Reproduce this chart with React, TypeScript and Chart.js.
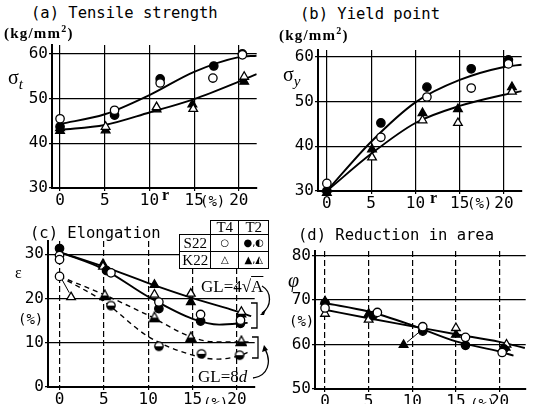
import React, { useEffect, useRef } from "react";
import { Chart, registerables } from "chart.js";

Chart.register(...registerables);

type Pt = [number, number];

// ---------- tick values ----------
const rTicks = [0, 5, 10, 15, 20];
const tensileTicks = [30, 40, 50, 60];
const yieldTicks = [30, 40, 50, 60];
const elongTicks = [0, 10, 20, 30];
const areaTicks = [50, 60, 70, 80];

// ---------- (a) Tensile strength ----------
const tensileS22T4: Pt[] = [[0, 45.5], [6.1, 47.4], [11.2, 53.5], [17.1, 54.6], [20.4, 59.8]];
const tensileS22T2: Pt[] = [[0, 43.7], [6.1, 46.3], [11.2, 54.4], [17.2, 57.3], [20.4, 60.0]];
const tensileK22T4: Pt[] = [[0, 43.4], [5.1, 43.7], [10.8, 48.1], [14.9, 47.7], [20.6, 54.9]];
const tensileK22T2: Pt[] = [[0, 42.8], [5.1, 42.9], [10.8, 47.6], [14.8, 48.7], [20.6, 53.8]];
const tensileCurveS22: Pt[] = [[0, 44.3], [5, 46.5], [10, 50.8], [15, 56.0], [20, 59.3], [22, 59.6]];
const tensileCurveK22: Pt[] = [[0, 43.0], [5, 44.1], [10, 46.9], [15, 49.9], [20, 53.8], [22, 55.5]];

// ---------- (b) Yield point ----------
const yieldS22T4: Pt[] = [[0, 31.7], [6.1, 42.0], [11.3, 51.0], [16.3, 53.0], [20.5, 58.4]];
const yieldS22T2: Pt[] = [[0, 30.0], [6.1, 45.2], [11.3, 53.2], [16.3, 57.3], [20.5, 59.3]];
const yieldK22T4: Pt[] = [[0, 30.4], [5.1, 37.5], [10.8, 45.8], [14.8, 45.2], [20.9, 52.2]];
const yieldK22T2: Pt[] = [[0, 29.6], [5.1, 39.3], [10.8, 47.4], [14.8, 48.3], [20.9, 53.2]];
const yieldCurveS22: Pt[] = [[0, 30], [5, 41], [10, 49.8], [15, 54.8], [20, 57.7], [22, 58.2]];
const yieldCurveK22: Pt[] = [[0, 30], [5, 38.3], [10, 45.2], [15, 49], [20, 51.5], [22, 52.3]];

// ---------- (c) Elongation ----------
const elongS22T4: Pt[] = [[0, 29.7], [0, 28.8], [0, 25.0], [5.8, 25.8], [11.2, 19.2], [15.9, 16.4], [20.4, 15.1]];
const elongS22T2: Pt[] = [[0, 31.3], [5.3, 26.3], [11.2, 17.7], [15.9, 14.9], [20.4, 14.4]];
const elongS22T2half: Pt[] = [[5.8, 18.4], [11.2, 9.2], [16.0, 7.5], [20.3, 7.2]];
const elongK22T4: Pt[] = [[1.3, 20.3], [4.9, 27.2], [10.7, 20.9], [14.8, 21.1], [20.5, 17.0]];
const elongK22T2: Pt[] = [[4.9, 27.8], [10.7, 23.1], [14.8, 19.2], [20.5, 16.4]];
const elongK22T2half: Pt[] = [[5.1, 20.8], [10.7, 15.8], [14.8, 11.3], [20.5, 10.4]];
const elongCurveK22A: Pt[] = [[0, 30.5], [5, 27.2], [10, 23.5], [15, 20.1], [20, 17.1], [21.6, 16.0]];
const elongCurveS22A: Pt[] = [[0, 30.5], [5, 26.6], [10, 20.4], [15, 15.4], [18, 14.1], [21.2, 14.5]];
const elongCurveK22d: Pt[] = [[0, 25], [5, 20.9], [10, 16.2], [15, 11.2], [17.5, 10.2], [21.5, 10.2]];
const elongCurveS22d: Pt[] = [[0, 25], [5, 19.3], [10, 11.4], [15, 7.2], [17.7, 6.3], [20.5, 7.2], [21.4, 8.0]];
const elongLeader: Pt[] = [[0.3, 24.2], [1.1, 21.3]];

// ---------- (d) Reduction in area ----------
const areaS22T4: Pt[] = [[0, 68.2], [6.0, 67.2], [11.2, 64.0], [16.1, 61.6], [20.3, 58.2]];
const areaS22T2: Pt[] = [[0, 69.3], [5.5, 66.5], [11.2, 63.0], [16.1, 59.8], [20.5, 59.0]];
const areaK22T4: Pt[] = [[0, 66.9], [5.0, 65.6], [15.0, 63.7], [20.8, 60.0]];
const areaK22T2: Pt[] = [[0, 69.7], [5.0, 66.9], [9.0, 59.9], [15.0, 62.2], [20.7, 59.3]];
const areaCurveA: Pt[] = [[0, 69.3], [5, 67.4], [10, 64.3], [15, 60.7], [20, 58.4], [21.6, 57.5]];
const areaCurveB: Pt[] = [[0, 67.8], [5, 65.9], [10, 64.1], [15, 62.3], [20, 60.6], [22.9, 59.2]];
const areaLeader: Pt[] = [[9.4, 60.5], [10.8, 62.8]];

// ---------- styling ----------
const MONO = '"DejaVu Sans Mono", monospace';
const SERIF = '"Liberation Serif", "DejaVu Serif", serif';
const PL = 48, PT = 16, PR = 6, PB = 24;

type Marker = "openCircle" | "filledCircle" | "halfCircle" | "openTri" | "filledTri" | "halfTri";
type Series = { pts: Pt[]; kind: "marker"; marker: Marker } | { pts: Pt[]; kind: "curve"; dashed?: boolean } | { pts: Pt[]; kind: "leader" };

type Spec = {
  L: number; R: number; T: number; B: number;
  xMin: number; xMax: number; yMin: number; yMax: number;
  yTicks: number[]; dashedGrid: boolean;
  series: Series[];
};

const toXY = (a: Pt[]) => a.map(([x, y]) => ({ x, y }));

function halfMarker(shape: "circle" | "tri"): HTMLCanvasElement {
  const s = 12;
  const c = document.createElement("canvas");
  c.width = s; c.height = s;
  const g = c.getContext("2d")!;
  const p = new Path2D();
  if (shape === "circle") p.arc(6, 6, 4.2, 0, Math.PI * 2);
  else { p.moveTo(6, 1); p.lineTo(11, 10.5); p.lineTo(1, 10.5); p.closePath(); }
  g.fillStyle = "#fff"; g.fill(p);
  g.save(); g.clip(p); g.fillStyle = "#000"; g.fillRect(0, shape === "circle" ? 6 : 6.5, s, s); g.restore();
  g.lineWidth = 1.3; g.strokeStyle = "#000"; g.stroke(p);
  return c;
}

function buildDatasets(series: Series[]) {
  const hc = halfMarker("circle");
  const ht = halfMarker("tri");
  return series.map((s) => {
    if (s.kind === "marker") {
      const m = s.marker;
      const isCircle = m.includes("ircle") || m === "halfCircle";
      const style: any = m === "halfCircle" ? hc : m === "halfTri" ? ht : isCircle ? "circle" : "triangle";
      const filled = m === "filledCircle" || m === "filledTri";
      return {
        data: toXY(s.pts), showLine: false, pointStyle: style,
        pointRadius: isCircle ? 4.2 : 5, pointBackgroundColor: filled ? "#000" : "#fff",
        pointBorderColor: "#000", pointBorderWidth: 1.3, clip: false as any, order: 0,
      };
    }
    if (s.kind === "curve") {
      return {
        data: toXY(s.pts), showLine: true, borderColor: "#000", borderWidth: s.dashed ? 1.4 : 1.9,
        borderDash: s.dashed ? [5, 4] : [], pointRadius: 0, cubicInterpolationMode: "monotone" as const, order: 1,
      };
    }
    return { data: toXY(s.pts), showLine: true, borderColor: "#000", borderWidth: 1, pointRadius: 0, tension: 0, order: 1 };
  });
}

function Panel({ spec }: { spec: Spec }) {
  const ref = useRef<HTMLCanvasElement>(null);
  const w = spec.R - spec.L + PL + PR;
  const h = spec.B - spec.T + PT + PB;
  useEffect(() => {
    const tickFont = { family: MONO, size: 16 };
    const chart = new Chart(ref.current!, {
      type: "scatter",
      data: { datasets: buildDatasets(spec.series) as any },
      options: {
        animation: false, responsive: false, devicePixelRatio: 1,
        layout: { padding: { top: PT, right: PR, left: 0, bottom: 0 } },
        plugins: { legend: { display: false }, tooltip: { enabled: false } },
        scales: {
          x: {
            type: "linear", min: spec.xMin, max: spec.xMax,
            afterBuildTicks: (s: any) => { s.ticks = rTicks.map((v) => ({ value: v })); },
            afterFit: (s: any) => { s.height = PB; },
            grid: { color: "#000", lineWidth: 1.2, tickLength: 3, tickColor: "#000" },
            border: { display: true, color: "#000", width: 2, dash: spec.dashedGrid ? [6, 3] : [] },
            ticks: { font: tickFont, color: "#000", padding: 0, maxRotation: 0, autoSkip: false },
          },
          y: {
            type: "linear", min: spec.yMin, max: spec.yMax,
            afterBuildTicks: (s: any) => { s.ticks = spec.yTicks.map((v) => ({ value: v })); },
            afterFit: (s: any) => { s.width = PL; },
            grid: { color: "#000", lineWidth: 1.2, tickLength: 3, tickColor: "#000" },
            border: { display: true, color: "#000", width: 2 },
            ticks: { font: tickFont, color: "#000", padding: 1 },
          },
        },
      } as any,
    });
    return () => chart.destroy();
  }, []);
  return (
    <canvas ref={ref} width={w} height={h}
      style={{ position: "absolute", left: spec.L - PL, top: spec.T - PT, width: w, height: h }} />
  );
}

const specA: Spec = {
  L: 52, R: 257, T: 45, B: 188, xMin: -0.9, xMax: 22, yMin: 30, yMax: 62, yTicks: tensileTicks, dashedGrid: false,
  series: [
    { kind: "marker", marker: "openCircle", pts: tensileS22T4 },
    { kind: "marker", marker: "filledCircle", pts: tensileS22T2 },
    { kind: "marker", marker: "openTri", pts: tensileK22T4 },
    { kind: "marker", marker: "filledTri", pts: tensileK22T2 },
    { kind: "curve", pts: tensileCurveS22 },
    { kind: "curve", pts: tensileCurveK22 },
  ],
};
const specB: Spec = {
  L: 318, R: 522, T: 50, B: 191, xMin: -1.0, xMax: 22, yMin: 30, yMax: 61.5, yTicks: yieldTicks, dashedGrid: false,
  series: [
    { kind: "marker", marker: "openCircle", pts: yieldS22T4 },
    { kind: "marker", marker: "filledCircle", pts: yieldS22T2 },
    { kind: "marker", marker: "openTri", pts: yieldK22T4 },
    { kind: "marker", marker: "filledTri", pts: yieldK22T2 },
    { kind: "curve", pts: yieldCurveS22 },
    { kind: "curve", pts: yieldCurveK22 },
  ],
};
const specC: Spec = {
  L: 48, R: 255, T: 241, B: 387, xMin: -1.3, xMax: 22, yMin: 0, yMax: 33, yTicks: elongTicks, dashedGrid: true,
  series: [
    { kind: "marker", marker: "openCircle", pts: elongS22T4 },
    { kind: "marker", marker: "filledCircle", pts: elongS22T2 },
    { kind: "marker", marker: "halfCircle", pts: elongS22T2half },
    { kind: "marker", marker: "openTri", pts: elongK22T4 },
    { kind: "marker", marker: "filledTri", pts: elongK22T2 },
    { kind: "marker", marker: "halfTri", pts: elongK22T2half },
    { kind: "curve", pts: elongCurveK22A },
    { kind: "curve", pts: elongCurveS22A },
    { kind: "curve", pts: elongCurveK22d, dashed: true },
    { kind: "curve", pts: elongCurveS22d, dashed: true },
    { kind: "leader", pts: elongLeader },
  ],
};
const specD: Spec = {
  L: 315, R: 526, T: 251, B: 389, xMin: -1.15, xMax: 23, yMin: 50, yMax: 81, yTicks: areaTicks, dashedGrid: true,
  series: [
    { kind: "marker", marker: "openCircle", pts: areaS22T4 },
    { kind: "marker", marker: "filledCircle", pts: areaS22T2 },
    { kind: "marker", marker: "openTri", pts: areaK22T4 },
    { kind: "marker", marker: "filledTri", pts: areaK22T2 },
    { kind: "curve", pts: areaCurveA },
    { kind: "curve", pts: areaCurveB },
    { kind: "leader", pts: areaLeader },
  ],
};

function Txt({ x, y, size, font, bold, italic, children, spacing }: any) {
  return (
    <div style={{
      position: "absolute", left: x, top: y, fontSize: size, fontFamily: font, lineHeight: 1,
      fontWeight: bold ? "bold" : "normal", fontStyle: italic ? "italic" : "normal",
      whiteSpace: "nowrap", color: "#000", letterSpacing: spacing || 0,
    }}>{children}</div>
  );
}

function Cell({ x, y, w, h, children, font, size }: any) {
  return (
    <div style={{
      position: "absolute", left: x, top: y, width: w, height: h, boxSizing: "border-box",
      border: "1.5px solid #000", marginLeft: -0.75, marginTop: -0.75, background: "#fff",
      display: "flex", alignItems: "center", justifyContent: "center",
      fontFamily: font, fontSize: size, lineHeight: 1, color: "#000",
    }}>{children}</div>
  );
}

export default function App() {
  const sym = '"DejaVu Sans", sans-serif';
  return (
    <div style={{ position: "absolute", left: 0, top: 0, width: 534, height: 404, background: "#fff", overflow: "hidden" }}>
      <Panel spec={specA} />
      <Panel spec={specB} />
      <Panel spec={specC} />
      <Panel spec={specD} />

      {/* titles */}
      <Txt x={31} y={6} size={15.5} font={MONO}>(a) Tensile strength</Txt>
      <Txt x={300} y={7} size={15.5} font={MONO}>(b) Yield point</Txt>
      <Txt x={30} y={226} size={15.5} font={MONO}>(c) Elongation</Txt>
      <Txt x={298} y={228} size={15.5} font={MONO}>(d) Reduction in area</Txt>

      {/* units / axis symbols */}
      <Txt x={4} y={24} size={15} font={SERIF} bold spacing={1.2}>(kg/mm<sup style={{ fontSize: 10 }}>2</sup>)</Txt>
      <Txt x={279} y={26} size={15} font={SERIF} bold spacing={1.2}>(kg/mm<sup style={{ fontSize: 10 }}>2</sup>)</Txt>
      <Txt x={8} y={67} size={20} font={SERIF}>σ<sub style={{ fontSize: 15, fontStyle: "italic" }}>t</sub></Txt>
      <Txt x={283} y={64} size={20} font={SERIF}>σ<sub style={{ fontSize: 15, fontStyle: "italic" }}>y</sub></Txt>
      <Txt x={15} y={265} size={16} font={SERIF}>ε</Txt>
      <Txt x={18} y={312} size={14} font={MONO}>(%)</Txt>
      <Txt x={288} y={270} size={20} font={SERIF} italic>φ</Txt>
      <Txt x={289} y={314} size={14} font={MONO}>(%)</Txt>

      {/* x axis labels */}
      <Txt x={162} y={187} size={16} font={SERIF} bold>r</Txt>
      <Txt x={200} y={194} size={14} font={MONO}>(%)</Txt>
      <Txt x={430} y={190} size={16} font={SERIF} bold>r</Txt>
      <Txt x={467} y={196} size={14} font={MONO}>(%)</Txt>
      <Txt x={203} y={396} size={14} font={MONO}>(%)</Txt>
      <Txt x={470} y={397} size={14} font={MONO}>(%)</Txt>

      {/* legend table */}
      <Cell x={211} y={221} w={29} h={15} font={SERIF} size={15}>T4</Cell>
      <Cell x={239} y={221} w={31} h={15} font={SERIF} size={15}>T2</Cell>
      <Cell x={180} y={235} w={32} h={18} font={SERIF} size={15}>S22</Cell>
      <Cell x={211} y={235} w={29} h={18} font={sym} size={10}>○</Cell>
      <Cell x={239} y={235} w={31} h={18} font={sym} size={10}>●,◐</Cell>
      <Cell x={180} y={252} w={32} h={18} font={SERIF} size={15}>K22</Cell>
      <Cell x={211} y={252} w={29} h={18} font={sym} size={10}>△</Cell>
      <Cell x={239} y={252} w={31} h={18} font={sym} size={10}>▲,◭</Cell>

      {/* gauge length notes */}
      <Txt x={201} y={278} size={17} font={SERIF}>GL=4√<span style={{ textDecoration: "overline" }}>A</span></Txt>
      <Txt x={198} y={368} size={17} font={SERIF}>GL=8<i>d</i></Txt>
      <svg width={534} height={404} style={{ position: "absolute", left: 0, top: 0 }}>
        <g fill="none" stroke="#000" strokeWidth={1.3}>
          <path d="M251,303 L257,303 L257,328 L251,328" />
          <path d="M252,337 L258,337 L258,358 L252,358" />
          <path d="M262,286 C272,292 272,306 262,313" />
          <path d="M253,378 C268,376 272,362 265,349" />
        </g>
        <g fill="#000">
          <path d="M260,315 L266,309 L264,315 Z" />
          <path d="M264,345 L262,352 L268,350 Z" />
        </g>
      </svg>
    </div>
  );
}
